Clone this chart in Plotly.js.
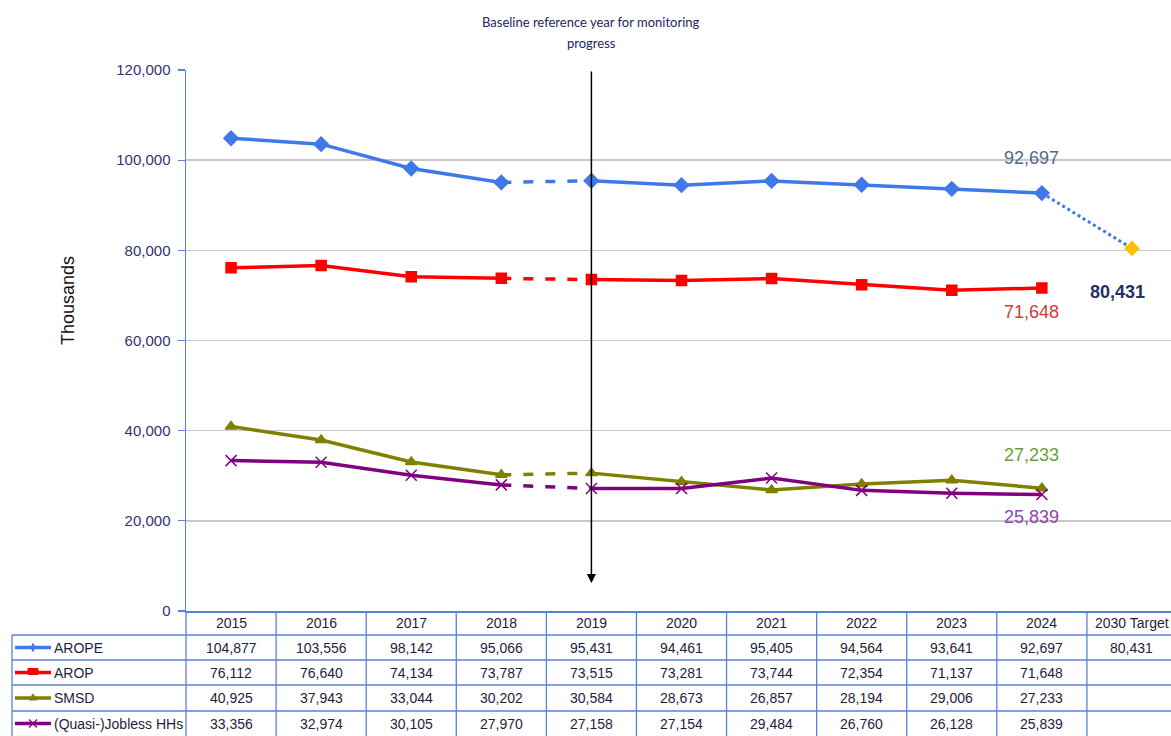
<!DOCTYPE html>
<html>
<head>
<meta charset="utf-8">
<script src="https://cdn.plot.ly/plotly-3.0.1.min.js"></script>
<style>
html,body{margin:0;padding:0;overflow:hidden;background:#fff;}
#chart{width:1180px;height:736px;}
</style>
</head>
<body>
<div id="chart"></div>
<script>
// ---- data ----
const categories = ['2015','2016','2017','2018','2019','2020','2021','2022','2023','2024','2030 Target'];
const years = categories.slice(0, 10);
const seriesNames = ['AROPE', 'AROP', 'SMSD', '(Quasi-)Jobless HHs'];
const arope   = [104877, 103556, 98142, 95066, 95431, 94461, 95405, 94564, 93641, 92697];
const arop    = [76112, 76640, 74134, 73787, 73515, 73281, 73744, 72354, 71137, 71648];
const smsd    = [40925, 37943, 33044, 30202, 30584, 28673, 26857, 28194, 29006, 27233];
const jobless = [33356, 32974, 30105, 27970, 27158, 27154, 29484, 26760, 26128, 25839];
const aropeTarget = 80431;
const baselineYear = '2019';
const titleLines = ['Baseline reference year for monitoring', 'progress'];
const yTicks = [0, 20000, 40000, 60000, 80000, 100000, 120000];

// ---- layout helpers ----
const L = 186, PW = 991, T = 70, PH = 541;
const xp = px => (px - L) / PW;
const yp = py => (T + PH - py) / PH;
const fmt = v => v.toLocaleString('en-US');
const axisBlue = '#5B80D8';
const sans = '"Liberation Sans", Arial, sans-serif';
const tblFont = {family: sans, size: 14, color: '#1e1e3c'};

const styles = [
  {color: '#3F78E8', symbol: 'diamond', size: 11},
  {color: '#FF0000', symbol: 'square', size: 10},
  {color: '#808000', symbol: 'triangle-up', size: 10},
  {color: '#800080', symbol: 'x-thin-open', size: 11}
];
const seriesVals = [arope, arop, smsd, jobless];

const traces = [];
[0, 1, 2, 3].forEach(k => {
  const v = seriesVals[k], s = styles[k];
  const mk = {symbol: s.symbol, size: s.size, color: s.color, line: {color: s.color, width: 1.5}};
  traces.push({x: years.slice(0, 4), y: v.slice(0, 4), type: 'scatter', mode: 'lines+markers',
    line: {color: s.color, width: 3.5}, marker: mk, name: seriesNames[k], hoverinfo: 'x+y'});
  traces.push({x: years.slice(3, 5), y: v.slice(3, 5), type: 'scatter', mode: 'lines',
    line: {color: s.color, width: 3.5, dash: '10px,12px'}, name: seriesNames[k], hoverinfo: 'skip'});
  traces.push({x: years.slice(4, 10), y: v.slice(4, 10), type: 'scatter', mode: 'lines+markers',
    line: {color: s.color, width: 3.5}, marker: mk, name: seriesNames[k], hoverinfo: 'x+y'});
});
// dotted path to 2030 target
traces.push({x: [years[9], categories[10]], y: [arope[9], aropeTarget], type: 'scatter', mode: 'lines',
  line: {color: '#3F78E8', width: 3, dash: 'dot'}, hoverinfo: 'skip'});
traces.push({x: [categories[10]], y: [aropeTarget], type: 'scatter', mode: 'markers',
  marker: {symbol: 'diamond', size: 12, color: '#FFC000'}, hoverinfo: 'x+y'});

// ---- table ----
const rowEdges = [611, 635, 660, 685, 711, 736];
const shapes = [];
const annotations = [];
const tblLine = {color: axisBlue, width: 1.3};
for (let k = 0; k <= categories.length; k++) {
  shapes.push({type: 'line', xref: 'paper', yref: 'paper', x0: k / categories.length, x1: k / categories.length,
    y0: yp(611), y1: yp(740), line: tblLine});
}
shapes.push({type: 'line', xref: 'paper', yref: 'paper', x0: xp(12), x1: xp(12), y0: yp(635), y1: yp(740), line: tblLine});
for (let r = 1; r < rowEdges.length - 1; r++) {
  shapes.push({type: 'line', xref: 'paper', yref: 'paper', x0: xp(12), x1: 1, y0: yp(rowEdges[r]), y1: yp(rowEdges[r]), line: tblLine});
}
categories.forEach((c, i) => {
  annotations.push({xref: 'x', yref: 'paper', x: i, y: yp((rowEdges[0] + rowEdges[1]) / 2), text: c,
    showarrow: false, font: tblFont, xanchor: 'center', yanchor: 'middle'});
});
seriesVals.forEach((v, r) => {
  const yc = yp((rowEdges[r + 1] + rowEdges[r + 2]) / 2);
  v.forEach((val, i) => {
    annotations.push({xref: 'x', yref: 'paper', x: i, y: yc, text: fmt(val), showarrow: false,
      font: tblFont, xanchor: 'center', yanchor: 'middle'});
  });
  if (r === 0) {
    annotations.push({xref: 'x', yref: 'paper', x: 10, y: yc, text: fmt(aropeTarget), showarrow: false,
      font: tblFont, xanchor: 'center', yanchor: 'middle'});
  }
  annotations.push({xref: 'paper', yref: 'paper', x: xp(52), y: yc, text: seriesNames[r], showarrow: false,
    font: tblFont, xanchor: 'left', yanchor: 'middle'});
  const col = styles[r].color;
  shapes.push({type: 'line', xref: 'paper', yref: 'paper', x0: xp(15), x1: xp(51), y0: yc, y1: yc, line: {color: col, width: 3.5}});
  const base = {xref: 'paper', yref: 'paper', xsizemode: 'pixel', ysizemode: 'pixel', xanchor: xp(33), yanchor: yc};
  if (r === 0) shapes.push(Object.assign({type: 'path', path: 'M -2 0 L 0 4 L 2 0 L 0 -4 Z', fillcolor: col, line: {color: col, width: 1}}, base));
  if (r === 1) shapes.push(Object.assign({type: 'rect', x0: -5, x1: 5, y0: -2, y1: 4, fillcolor: col, line: {color: col, width: 1}}, base));
  if (r === 2) shapes.push(Object.assign({type: 'path', path: 'M -4 -2 L 4 -2 L 0 4 Z', fillcolor: col, line: {color: col, width: 1}}, base));
  if (r === 3) shapes.push(Object.assign({type: 'path', path: 'M -4 -4 L 4 4 M -4 4 L 4 -4', line: {color: col, width: 1.2}}, base));
});

// ---- other annotations ----
const bIdx = categories.indexOf(baselineYear);
annotations.push({xref: 'x', yref: 'y', x: bIdx, y: 6200, axref: 'x', ayref: 'y', ax: bIdx, ay: yTicks[yTicks.length - 1],
  showarrow: true, arrowhead: 2, arrowsize: 1.2, arrowwidth: 1.5, arrowcolor: '#000', text: ''});
annotations.push({xref: 'x', yref: 'paper', x: bIdx, y: yp(22), text: titleLines[0], showarrow: false,
  font: {family: 'Lato, "Open Sans", sans-serif', size: 13, color: '#25255F'}, xanchor: 'center', yanchor: 'middle'});
annotations.push({xref: 'x', yref: 'paper', x: bIdx, y: yp(43), text: titleLines[1], showarrow: false,
  font: {family: 'Lato, "Open Sans", sans-serif', size: 13, color: '#25255F'}, xanchor: 'center', yanchor: 'middle'});
annotations.push({xref: 'paper', yref: 'paper', x: xp(68), y: yp(301), text: 'Thousands', textangle: -90, showarrow: false,
  font: {family: sans, size: 18, color: '#111'}, xanchor: 'center', yanchor: 'middle'});

// data labels
const dl = (x, y, text, color, ys, xs, bold) => annotations.push({xref: 'x', yref: 'y', x: x, y: y,
  text: bold ? '<b>' + text + '</b>' : text, showarrow: false, yshift: ys, xshift: xs,
  font: {family: sans, size: 18, color: color}});
dl(9, arope[9], fmt(arope[9]), '#50698F', 35, -10, false);
dl(9, arop[9], fmt(arop[9]), '#D33A3A', -24, -10, false);
dl(10, aropeTarget, fmt(aropeTarget), '#1F3260', -44, -14, true);
dl(9, smsd[9], fmt(smsd[9]), '#6A9E3C', 33, -10, false);
dl(9, jobless[9], fmt(jobless[9]), '#8E44AD', -22, -10, false);

const layout = {
  width: 1180, height: 736,
  margin: {l: L, r: 1180 - L - PW, t: T, b: 736 - T - PH},
  paper_bgcolor: '#fff', plot_bgcolor: '#fff',
  showlegend: false,
  xaxis: {type: 'category', categoryorder: 'array', categoryarray: categories, range: [-0.5, 10.5],
    showgrid: false, showticklabels: false, ticks: '', zeroline: false,
    showline: true, linecolor: axisBlue, linewidth: 1.5, fixedrange: true},
  yaxis: {range: [0, 120000], tickvals: yTicks, tickformat: ',d', showgrid: true, gridcolor: '#C8C8C8', gridwidth: 1.5,
    zeroline: false, showline: true, linecolor: axisBlue, linewidth: 1.5, ticks: 'outside', ticklen: 7,
    tickcolor: axisBlue, tickwidth: 1.3, ticklabelstandoff: 4,
    tickfont: {family: sans, size: 15, color: '#33336F'}, fixedrange: true},
  shapes: shapes,
  annotations: annotations
};

Plotly.newPlot('chart', traces, layout, {displayModeBar: false, staticPlot: true});
</script>
</body>
</html>
